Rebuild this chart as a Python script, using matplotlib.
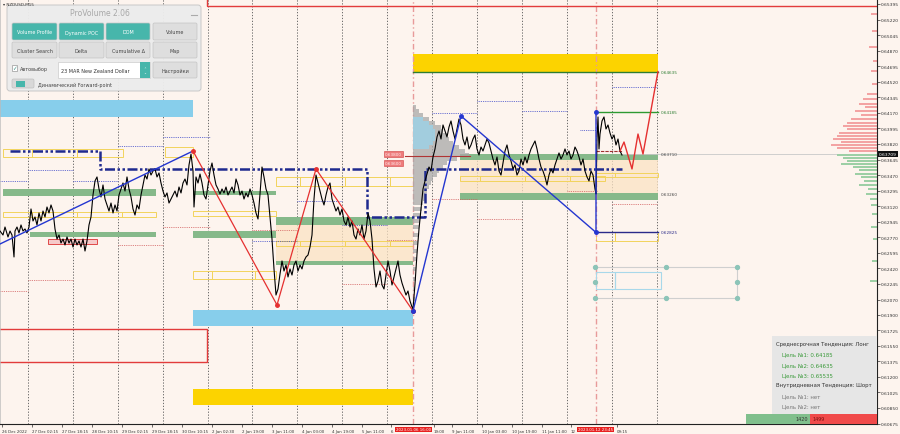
import matplotlib
matplotlib.use("Agg")
import matplotlib.pyplot as plt
from matplotlib.patches import Rectangle, FancyBboxPatch

plt.rcParams['font.family'] = ['DejaVu Sans']

# ---------------- data ----------------
price_bars = [0,3,5,8,10,12,14,15,17,19,21,23,25,27,29,31,33,35,37,39,41,43,45,47,49,51,53,55,57,59,
              61,63,65,67,69,71,73,75,77,79,81,83,85,87,89,91,93,95,97,99,101,103,105,107,109,111,113,115,117,119,
              121,123,125,127,129,131,133,135,137,139,141,143,145,147,149,151,153,155,157,159,161,163,165,167,169,171,173,175,177,179,
              181,183,185,187,189,191,193,194,196,198,200,202,204,206,208,210,212,214,216,218,220,222,224,226,228,230,232,234,236,238,
              240,242,244,246,248,250,252,254,256,258,260,262,264,266,268,270,272,274,276,278,280,282,284,286,288,290,292,294,296,298,
              300,302,304,306,308,310,312,314,316,318,320,322,324,326,328,330,332,334,336,338,340,342,344,346,348,350,352,354,356,358,
              360,362,364,366,368,370,372,374,376,378,380,382,384,386,388,390,392,394,396,398,400,402,404,406,408,410,412,413,415,417,
              419,421,423,425,427,429,431,433,435,437,439,441,443,445,447,449,451,453,455,457,459,461,463,465,467,469,471,473,475,477,
              479,481,483,485,487,489,491,493,495,497,499,501,503,505,507,509,511,513,515,517,519,521,523,525,527,529,531,533,535,537,
              539,541,543,545,547,549,551,553,555,557,559,561,563,565,567,569,571,573,575,577,579,581,583,585,587,589,591,593,595,596,
              597,598,599,600,602,604,606,608,610,612,614,616,618,620,622]
close = [0.62841,0.62796,0.62886,0.62774,0.62841,0.62796,0.62549,0.62841,0.62886,0.62819,0.62909,0.62841,0.62864,0.62819,0.62886,0.63089,0.62954,0.62999,0.62909,0.63044,0.62954,0.63066,0.62999,0.63111,0.63044,0.63134,0.63066,0.62864,0.62751,0.62796,
         0.62706,0.62751,0.62684,0.62774,0.62706,0.62751,0.62661,0.62751,0.62684,0.62729,0.62661,0.62751,0.62616,0.62729,0.62909,0.62999,0.63246,0.63404,0.63449,0.63314,0.63224,0.63359,0.63201,0.63134,0.63066,0.63156,0.63044,0.63134,0.63066,0.63246,
         0.63314,0.63381,0.63291,0.63449,0.63314,0.63224,0.63089,0.63021,0.63134,0.63089,0.63246,0.63359,0.63471,0.63426,0.63539,0.63471,0.63516,0.63539,0.63449,0.63494,0.63381,0.63291,0.63224,0.63269,0.63156,0.63201,0.63246,0.63291,0.63224,0.63336,
         0.63269,0.63381,0.63426,0.63359,0.63584,0.63707,0.63516,0.63111,0.63449,0.63381,0.63482,0.63381,0.63246,0.63201,0.63359,0.63516,0.63606,0.63471,0.63359,0.63314,0.63257,0.63314,0.63269,0.63336,0.63246,0.63291,0.63336,0.63269,0.63426,0.63359,
         0.63246,0.63291,0.63201,0.63269,0.63224,0.63314,0.63246,0.63156,0.63044,0.62976,0.63257,0.63561,0.63449,0.63314,0.63246,0.62999,0.62751,0.62414,0.62121,0.62189,0.62357,0.62504,0.62391,0.62459,0.62324,0.62414,0.62346,0.62459,0.62504,0.62391,
         0.62459,0.62414,0.62504,0.62549,0.62571,0.62661,0.62796,0.63201,0.63471,0.63381,0.63291,0.63201,0.63134,0.63246,0.63336,0.63381,0.63201,0.63134,0.63066,0.63111,0.63021,0.63089,0.62954,0.62909,0.62999,0.62886,0.62954,0.62796,0.62751,0.62864,
         0.62796,0.62909,0.62751,0.62841,0.63044,0.62954,0.62751,0.62414,0.62211,0.62279,0.62391,0.62234,0.62189,0.62346,0.62504,0.62391,0.62234,0.62324,0.62414,0.62504,0.62346,0.62256,0.62189,0.62121,0.62166,0.62054,0.61986,0.61964,0.62245,0.62582,
         0.62864,0.63089,0.63314,0.63404,0.63482,0.63561,0.63516,0.63674,0.63764,0.63899,0.63966,0.63876,0.64034,0.63966,0.63899,0.64011,0.64079,0.63966,0.63876,0.63989,0.64101,0.64034,0.63876,0.63809,0.63899,0.63764,0.63809,0.63876,0.63921,0.63764,
         0.63696,0.63786,0.63741,0.63809,0.63876,0.63831,0.63741,0.63651,0.63584,0.63674,0.63516,0.63471,0.63606,0.63741,0.63809,0.63696,0.63629,0.63539,0.63584,0.63471,0.63516,0.63651,0.63584,0.63674,0.63606,0.63696,0.63764,0.63809,0.63854,0.63764,
         0.63651,0.63561,0.63516,0.63449,0.63359,0.63471,0.63539,0.63494,0.63584,0.63651,0.63719,0.63651,0.63696,0.63764,0.63696,0.63741,0.63651,0.63696,0.63786,0.63741,0.63674,0.63584,0.63651,0.63516,0.63449,0.63404,0.63516,0.63471,0.63314,0.63257,
         0.63876,0.64124,0.63764,0.63932,0.64079,0.64124,0.63989,0.64034,0.63944,0.63876,0.63921,0.63809,0.63876,0.63741,0.63696]

# zigzag swings
blue_a_bars = [0, 193]
blue_a_price = [0.62695, 0.63741]
red_zz_bars = [193, 277, 316, 413]
red_zz_price = [0.63741, 0.62009, 0.63539, 0.61941]
blue_b_bars = [413, 461, 596, 596]
blue_b_price = [0.61941, 0.64135, 0.62825, 0.64185]
forecast_bars = [620, 624, 632, 638, 643, 658]
forecast_price = [0.63741, 0.63842, 0.63539, 0.63932, 0.63707, 0.64635]

# dynamic POC step line
poc_bars = [10, 100, 100, 367, 367, 425, 425, 622]
poc_price = [0.63741, 0.63741, 0.63539, 0.63539, 0.62999, 0.62999, 0.63539, 0.63539]

# zones (x0, x1, top, bottom)
sky_zones = [(0, 193, 0.64315, 0.64124), (193, 413, 0.61952, 0.61772)]
gold_zones = [(413, 658, 0.64832, 0.64630), (193, 413, 0.61064, 0.60884)]
green_zones = [(3, 156, 0.63314, 0.63235), (30, 156, 0.62830, 0.62774),
               (193, 276, 0.63291, 0.63246), (193, 276, 0.62841, 0.62762),
               (276, 413, 0.62999, 0.62909), (276, 413, 0.62504, 0.62459),
               (460, 658, 0.63710, 0.63639), (460, 658, 0.63269, 0.63190)]
peach_zones = [(276, 413, 0.62909, 0.62504), (460, 658, 0.63639, 0.63269)]
yellow_boxes = [(3, 32, 0.63764, 0.63674), (32, 77, 0.63764, 0.63674), (77, 123, 0.63764, 0.63674),
                (165, 193, 0.63786, 0.63674),
                (3, 32, 0.63055, 0.62999), (32, 77, 0.63055, 0.62999), (77, 122, 0.63055, 0.62999), (122, 156, 0.63055, 0.62999),
                (193, 276, 0.63066, 0.63010),
                (193, 212, 0.62391, 0.62301), (212, 255, 0.62391, 0.62301), (255, 276, 0.62391, 0.62301),
                (276, 300, 0.63449, 0.63347), (300, 345, 0.63449, 0.63347), (345, 390, 0.63449, 0.63347), (390, 413, 0.63449, 0.63347),
                (276, 300, 0.62729, 0.62672), (300, 345, 0.62729, 0.62672), (345, 390, 0.62729, 0.62672), (390, 413, 0.62729, 0.62672),
                (460, 480, 0.63460, 0.63404), (480, 525, 0.63460, 0.63404), (525, 570, 0.63460, 0.63404), (570, 605, 0.63460, 0.63404),
                (596, 615, 0.63494, 0.63449), (615, 658, 0.63494, 0.63449),
                (596, 615, 0.62830, 0.62729), (615, 658, 0.62830, 0.62729)]
blue_dotted = [(163, 210, 0.63899), (118, 163, 0.63797), (28, 73, 0.63527), (0, 28, 0.63404), (73, 118, 0.63404),
               (252, 297, 0.62729), (297, 342, 0.63179), (342, 387, 0.62909), (432, 477, 0.64169),
               (477, 522, 0.64304), (522, 567, 0.64191), (612, 657, 0.64461), (580, 597, 0.63977)]
red_dotted = [(118, 163, 0.62684), (28, 73, 0.62290), (0, 28, 0.62166), (163, 210, 0.62886), (252, 297, 0.62853),
              (342, 387, 0.62245), (387, 417, 0.62740), (432, 477, 0.63201), (477, 522, 0.62976),
              (567, 597, 0.63291), (612, 657, 0.63145)]

# volume profile at 6 Jan 16:00
vp_price = [0.64236,0.64191,0.64146,0.64101,0.64056,0.64011,0.63966,0.63921,0.63876,0.63831,0.63786,0.63741,0.63696,
            0.63651,0.63606,0.63561,0.63516,0.63471,0.63426,0.63381,0.63336,0.63291,0.63246,0.63201,0.63156,0.63089,
            0.63021,0.62954,0.62886,0.62796,0.62706,0.62616,0.62526,0.62414,0.62301,0.62189,0.62076]
vp_volume = [3,6,10,16,22,28,30,34,36,40,46,52,56,44,34,30,26,24,20,18,16,14,12,12,10,9,8,7,6,5,5,4,4,3,3,2,2]
vp_value_price = [0.64101,0.64056,0.64011,0.63966,0.63921,0.63876,0.63831,0.63786]
vp_value_volume = [10,16,20,22,22,22,20,16]

# right-edge histogram
rh_up_price = [0.65282,0.65091,0.64911,0.64754,0.64641,0.64495,0.64383,0.64326,0.64270,0.64236,0.64191,0.64146,
               0.64101,0.64056,0.64022,0.63989,0.63944,0.63910,0.63876,0.63842,0.63809,0.63775,0.63741]
rh_up_vol = [6,5,8,4,6,5,10,14,18,12,22,16,26,30,34,30,38,40,44,36,46,40,28]
rh_dn_price = [0.63696,0.63662,0.63629,0.63595,0.63561,0.63527,0.63482,0.63449,0.63404,0.63359,0.63314,
               0.63257,0.63201,0.63134,0.63032,0.62886,0.62751,0.62504,0.62279]
rh_dn_vol = [40,34,30,36,24,18,22,16,13,18,9,11,7,6,5,6,4,5,7]

# levels
target_levels = [0.64635, 0.64185, 0.63710, 0.63260, 0.62825]
target_colors = ['#2e7d32', '#2e7d32', '#444444', '#444444', '#2a2a88']
current_price = 0.63709

sep_bars = [28, 73, 118, 163, 208, 252, 297, 342, 387, 432, 477, 522, 567, 612, 657]
event_bars = [413, 596]

xtick_pos = [2, 32, 62, 92, 122, 152, 182, 212, 242, 272, 302, 332, 362, 391, 434, 452, 482, 512, 542, 571, 617]
xtick_lab = ['26 Dec 2022', '27 Dec 02:15', '27 Dec 18:15', '28 Dec 10:15', '29 Dec 02:15', '29 Dec 18:15',
             '30 Dec 10:15', '2 Jan 02:30', '2 Jan 19:00', '3 Jan 11:00', '4 Jan 03:00', '4 Jan 19:00',
             '5 Jan 11:00', '6', '19:00', '9 Jan 11:00', '10 Jan 03:00', '10 Jan 19:00',
             '11 Jan 11:00', '12', '09:15']
ytick_vals = [0.65395,0.65220,0.65045,0.64870,0.64695,0.64520,0.64345,0.64170,0.63995,0.63820,0.63645,0.63470,
              0.63295,0.63120,0.62945,0.62770,0.62595,0.62420,0.62245,0.62070,0.61900,0.61725,0.61550,0.61375,
              0.61200,0.61025,0.60850,0.60675]

# ---------------- figure ----------------
BG = '#fdf4ee'
fig = plt.figure(figsize=(9, 4.35), dpi=100, facecolor=BG)
ax = fig.add_axes([0, 10/435, 877/900, 425/435])
ax.set_facecolor(BG)
ax.set_xlim(0, 877)
ax.set_ylim(0.60670, 0.65451)

for s in ['left', 'top']:
    ax.spines[s].set_color('#bbbbbb')
    ax.spines[s].set_linewidth(0.5)
for s in ['right', 'bottom']:
    ax.spines[s].set_color('#222222')
    ax.spines[s].set_linewidth(0.8)

ax.yaxis.tick_right()
ax.set_yticks(ytick_vals)
ax.set_yticklabels(['%.5f' % v for v in ytick_vals])
ax.tick_params(axis='y', length=2, width=0.5, labelsize=3.2, pad=1, colors='#333333')
ax.set_xticks(xtick_pos)
ax.set_xticklabels(xtick_lab)
for lab in ax.get_xticklabels():
    lab.set_ha('left')
ax.tick_params(axis='x', length=2, width=0.5, labelsize=2.8, pad=1.5, colors='#333333')

# separators
for b in sep_bars:
    ax.axvline(b, color='#555555', lw=0.6, ls=(0, (1.5, 2)), zorder=1)

def rect(x0, x1, top, bot, **kw):
    ax.add_patch(Rectangle((x0, bot), x1 - x0, top - bot, **kw))

for z in peach_zones:
    rect(*z, facecolor='#fbe3c4', edgecolor='none', alpha=0.75, zorder=1.2)
for z in sky_zones:
    rect(*z, facecolor='#87ceeb', edgecolor='none', zorder=1.5)
for z in gold_zones:
    rect(*z, facecolor='#fcd300', edgecolor='none', zorder=1.5)
for z in green_zones:
    rect(*z, facecolor='#86b98a', edgecolor='none', zorder=1.5)
for z in yellow_boxes:
    rect(*z, facecolor='none', edgecolor='#f2d35c', lw=0.7, zorder=1.6)

for x0, x1, p in blue_dotted:
    ax.plot([x0, x1], [p, p], color='#3a46c8', lw=0.6, ls=(0, (1, 1.2)), zorder=1.7)
for x0, x1, p in red_dotted:
    ax.plot([x0, x1], [p, p], color='#d25a5a', lw=0.6, ls=(0, (1, 1.2)), zorder=1.7)

# red outline rectangles
ax.add_patch(Rectangle((207, 0.65372), 700, 0.01, facecolor='none', edgecolor='#e23b3b', lw=1, zorder=2))
ax.add_patch(Rectangle((-5, 0.61367), 212, 0.61739 - 0.61367, facecolor='none', edgecolor='#e23b3b', lw=1, zorder=2))
ax.add_patch(Rectangle((48, 0.62695), 49, 0.62751 - 0.62695, facecolor='#f6c9c9', edgecolor='#e04848', lw=0.7, zorder=2))

# event lines
for b in event_bars:
    ax.axvline(b, color='#e89a9a', lw=1.0, ls=(0, (4, 2, 1, 2)), zorder=1.8)

# volume profile
ax.barh(vp_price, vp_volume, left=413, height=0.00045, color='#a8a8a8', alpha=0.75, lw=0, zorder=2)
ax.barh(vp_value_price, vp_value_volume, left=413, height=0.00045, color='#9fd0e3', alpha=0.9, lw=0, zorder=2.1)

# right histogram
ax.barh(rh_up_price, rh_up_vol, left=[877 - v for v in rh_up_vol], height=0.00018, color='#f3a3a3', lw=0, zorder=2)
ax.barh(rh_dn_price, rh_dn_vol, left=[877 - v for v in rh_dn_vol], height=0.00018, color='#9dcfa5', lw=0, zorder=2)

# POC step
ax.plot(poc_bars, poc_price, color='#1f2a8f', lw=1.8, ls=(0, (4, 1, 1, 1, 1, 1)), zorder=3)
ax.plot([405, 470], [0.63685, 0.63685], color='#b03434', lw=0.8, zorder=3)
ax.plot([596, 622], [0.63741, 0.63741], color='#a03030', lw=0.8, ls=(0, (3, 1)), zorder=3)

# target lines
ax.plot([413, 658], [0.64635, 0.64635], color='#2e7d32', lw=1.0, zorder=3)
ax.plot([596, 658], [0.64185, 0.64185], color='#2e9a32', lw=1.0, zorder=3)
ax.plot([596, 658], [0.62825, 0.62825], color='#2a2a8a', lw=1.0, zorder=3)
ax.plot([622, 877], [current_price, current_price], color='#c8c8c8', lw=0.6, zorder=1.9)
for lv, c in zip(target_levels, target_colors):
    ax.text(661, lv, '%.5f' % lv, fontsize=3, color=c, va='center', ha='left', zorder=4)

# price
ax.plot(price_bars, close, color='#000000', lw=0.8, zorder=4)

# zigzags
ax.plot(blue_a_bars, blue_a_price, color='#2436d0', lw=1.0, zorder=5)
ax.plot(blue_b_bars, blue_b_price, color='#2436d0', lw=1.0, zorder=5)
ax.plot(red_zz_bars, red_zz_price, color='#e53030', lw=0.9, zorder=5)
ax.plot(red_zz_bars, red_zz_price, 'o', color='#e53030', ms=2.5, zorder=6)
ax.plot(blue_b_bars, blue_b_price, 'o', color='#2436d0', ms=2.5, zorder=6)
ax.plot(forecast_bars, forecast_price, color='#e53030', lw=1.0, zorder=5)

# gray target box with handles
box_x = [595, 666, 737]
box_p = [0.62436, 0.62267, 0.62087]
ax.plot([595, 737], [box_p[0], box_p[0]], color='#cfcfcf', lw=0.8, zorder=3)
ax.plot([595, 737], [box_p[2], box_p[2]], color='#cfcfcf', lw=0.8, zorder=3)
ax.plot([737, 737], [box_p[0], box_p[2]], color='#cfcfcf', lw=0.8, zorder=3)
rect(596, 615, 0.62380, 0.62189, facecolor='none', edgecolor='#a8d8ea', lw=0.8, zorder=3)
rect(615, 661, 0.62380, 0.62189, facecolor='none', edgecolor='#a8d8ea', lw=0.8, zorder=3)
for xp in box_x:
    for i, pp in enumerate(box_p):
        if xp == 666 and i == 1:
            continue
        ax.plot(xp, pp, 'o', color='#8cc4b8', ms=2.8, zorder=4)

# ---------------- UI overlay (pixel coords) ----------------
ui = fig.add_axes([0, 0, 1, 1])
ui.set_xlim(0, 900)
ui.set_ylim(435, 0)
ui.axis('off')
ui.patch.set_alpha(0)

ui.text(3, 5, '\u25be NZDUSD,M15', fontsize=3, color='#333333', va='center')

ui.add_patch(FancyBboxPatch((7, 6), 194, 86, boxstyle='round,pad=0,rounding_size=3',
                            facecolor='#ececec', edgecolor='#c6c6c6', lw=0.7, alpha=0.97))
ui.text(100, 14, 'ProVolume 2.06', fontsize=5.5, color='#a8a8a8', ha='center', va='center')
ui.plot([191, 197], [16, 16], color='#aaaaaa', lw=0.8)

TEAL = '#47b6ab'
def button(x, y, w, h, text, teal):
    ui.add_patch(FancyBboxPatch((x, y), w, h, boxstyle='round,pad=0,rounding_size=1.5',
                                facecolor=TEAL if teal else '#dedede',
                                edgecolor='#c4c4c4', lw=0.5))
    ui.text(x + w / 2, y + h / 2 + 0.5, text, fontsize=3.5, color='white' if teal else '#444444',
            ha='center', va='center')

button(12, 24, 45, 17, 'Volume Profile', True)
button(59, 24, 45, 17, 'Dynamic POC', True)
button(106, 24, 44, 17, 'DOM', True)
button(153, 24, 44, 17, 'Volume', False)
button(12, 43, 45, 16, 'Cluster Search', False)
button(59, 43, 45, 16, 'Delta', False)
button(106, 43, 44, 16, 'Cumulative \u0394', False)
button(153, 43, 44, 16, 'Map', False)
button(153, 63, 44, 16, '\u041d\u0430\u0441\u0442\u0440\u043e\u0439\u043a\u0438', False)

ui.add_patch(Rectangle((12, 66), 5, 6, facecolor='white', edgecolor='#999999', lw=0.5))
ui.text(14.5, 68.5, '\u2713', fontsize=4, color='#3a8f86', ha='center', va='center')
ui.text(20, 70, '\u0410\u0432\u0442\u043e\u0432\u044b\u0431\u043e\u0440', fontsize=3.5, color='#444444', va='center')
ui.add_patch(Rectangle((58, 63), 92, 16, facecolor='white', edgecolor='#cccccc', lw=0.5))
ui.add_patch(Rectangle((140, 63), 10, 16, facecolor=TEAL, edgecolor='none'))
ui.text(145, 71, '\u2303\n\u2304', fontsize=2.5, color='white', ha='center', va='center', linespacing=0.8)
ui.text(61, 71.5, '23 MAR New Zealand Dollar', fontsize=3.5, color='#333333', va='center')
ui.add_patch(FancyBboxPatch((12, 80), 22, 9, boxstyle='round,pad=0,rounding_size=1.5',
                            facecolor='#d8d8d8', edgecolor='#c0c0c0', lw=0.5))
ui.add_patch(Rectangle((16, 81.5), 9, 6, facecolor=TEAL, edgecolor='none'))
ui.text(38, 85, '\u0414\u0438\u043d\u0430\u043c\u0438\u0447\u0435\u0441\u043a\u0438\u0439 Forward-point',
        fontsize=3.5, color='#444444', va='center')

# red price labels near profile
ui.text(385, 155, '0.63800', fontsize=3, color='#fff0f0', va='center',
        bbox=dict(boxstyle='square,pad=0.2', facecolor='#ee7b7b', edgecolor='#d04040', lw=0.4))
ui.text(385, 164, '0.63600', fontsize=3, color='#fff0f0', va='center',
        bbox=dict(boxstyle='square,pad=0.2', facecolor='#ee7b7b', edgecolor='#d04040', lw=0.4))

# info box
ui.add_patch(Rectangle((772, 337), 105, 78, facecolor='#e6e6e6', edgecolor='none', alpha=0.96))
info_lines = [('\u0421\u0440\u0435\u0434\u043d\u0435\u0441\u0440\u043e\u0447\u043d\u0430\u044f \u0422\u0435\u043d\u0434\u0435\u043d\u0446\u0438\u044f: \u041b\u043e\u043d\u0433', 776, 345, '#333333'),
              ('\u0426\u0435\u043b\u044c \u21161: 0.64185', 782, 355, '#3a9a3a'),
              ('\u0426\u0435\u043b\u044c \u21162: 0.64635', 782, 365.5, '#3a9a3a'),
              ('\u0426\u0435\u043b\u044c \u21163: 0.65535', 782, 375.5, '#3a9a3a'),
              ('\u0412\u043d\u0443\u0442\u0440\u0438\u0434\u043d\u0435\u0432\u043d\u0430\u044f \u0422\u0435\u043d\u0434\u0435\u043d\u0446\u0438\u044f: \u0428\u043e\u0440\u0442', 776, 386, '#333333'),
              ('\u0426\u0435\u043b\u044c \u21161: \u043d\u0435\u0442', 782, 397, '#777777'),
              ('\u0426\u0435\u043b\u044c \u21162: \u043d\u0435\u0442', 782, 407, '#777777')]
for t, x, y, c in info_lines:
    ui.text(x, y, t, fontsize=3.9, color=c, va='center', ha='left')

ui.add_patch(Rectangle((746, 415), 64, 10, facecolor='#80bf8c', edgecolor='none'))
ui.add_patch(Rectangle((810, 415), 67, 10, facecolor='#f04a4a', edgecolor='none'))
ui.text(808, 420, '1420', fontsize=3.5, color='#333333', ha='right', va='center')
ui.text(812, 420, '1499', fontsize=3.5, color='#7a1010', ha='left', va='center')

# red time labels and current price label
ui.text(396, 430.5, '2023.01.06 16:00', fontsize=2.9, color='white', va='center',
        bbox=dict(boxstyle='square,pad=0.2', facecolor='#e8201f', edgecolor='none'))
ui.text(578, 430.5, '2023.01.12 23:45', fontsize=2.9, color='white', va='center',
        bbox=dict(boxstyle='square,pad=0.2', facecolor='#e8201f', edgecolor='none'))
ui.text(879, 155, '0.63709', fontsize=3.2, color='white', va='center',
        bbox=dict(boxstyle='square,pad=0.25', facecolor='#111111', edgecolor='none'))

fig.savefig('out.png', dpi=100, facecolor=BG)
